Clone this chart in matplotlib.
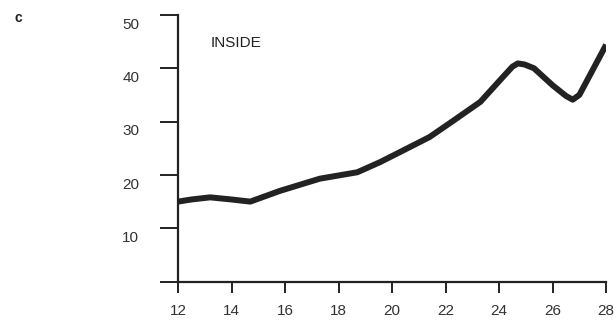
import matplotlib
matplotlib.use("Agg")
import matplotlib.pyplot as plt
from matplotlib.transforms import ScaledTranslation

plt.rcParams['font.family'] = ['Liberation Sans', 'DejaVu Sans']

# values
hours = [12, 12.5, 13.2, 14, 14.7, 15.8, 17.3, 18.7, 19.55, 20.3, 21.4, 22.3, 23.3, 24.15, 24.5, 24.7, 24.95, 25.3,
         26.0, 26.5, 26.75, 27.0, 28]
values = [15.0, 15.4, 15.8, 15.4, 15.0, 17.0, 19.3, 20.5, 22.4, 24.3, 27.1, 30.2, 33.7, 38.4, 40.3, 40.9, 40.7, 40.0,
          36.8, 34.8, 34.1, 35.0, 44.4]
xticks = [12, 14, 16, 18, 20, 22, 24, 26, 28]
yticks = [0, 10, 20, 30, 40, 50]
ylabels = ['', '10', '20', '30', '40', '50']

fig = plt.figure(figsize=(6.16, 3.23), dpi=100)
ax = fig.add_axes([0.289, 0.128, 0.695, 0.826])

ax.plot(hours, values, color='#222222', linewidth=4.3, solid_joinstyle='round', solid_capstyle='butt')

ax.set_xlim(12, 28)
ax.set_ylim(0, 50)
ax.set_xticks(xticks)
ax.set_yticks(yticks)
ax.set_yticklabels(ylabels)

for s in ['top', 'right']:
    ax.spines[s].set_visible(False)
ax.spines['left'].set_linewidth(1.6)
ax.spines['bottom'].set_linewidth(1.6)
ax.spines['left'].set_color('#222222')
ax.spines['bottom'].set_color('#222222')

ax.tick_params(axis='y', direction='out', length=13, width=1.4, pad=15, labelsize=11, colors='#222222', labelcolor='#333333')
ax.tick_params(axis='x', direction='out', length=8, width=1.4, pad=8, labelsize=11, colors='#222222', labelcolor='#333333')

# y labels sit a little below their ticks in the original
shift = ScaledTranslation(0, -6 / 72, fig.dpi_scale_trans)
for lab in ax.get_yticklabels():
    lab.set_transform(lab.get_transform() + shift)

ax.text(13.2, 44.7, 'INSIDE', fontsize=11, color='#222222', va='center', ha='left')
fig.text(0.023, 0.945, 'c', fontsize=10, fontweight='bold', color='#222222', va='center')

fig.savefig('out.png', dpi=100)
